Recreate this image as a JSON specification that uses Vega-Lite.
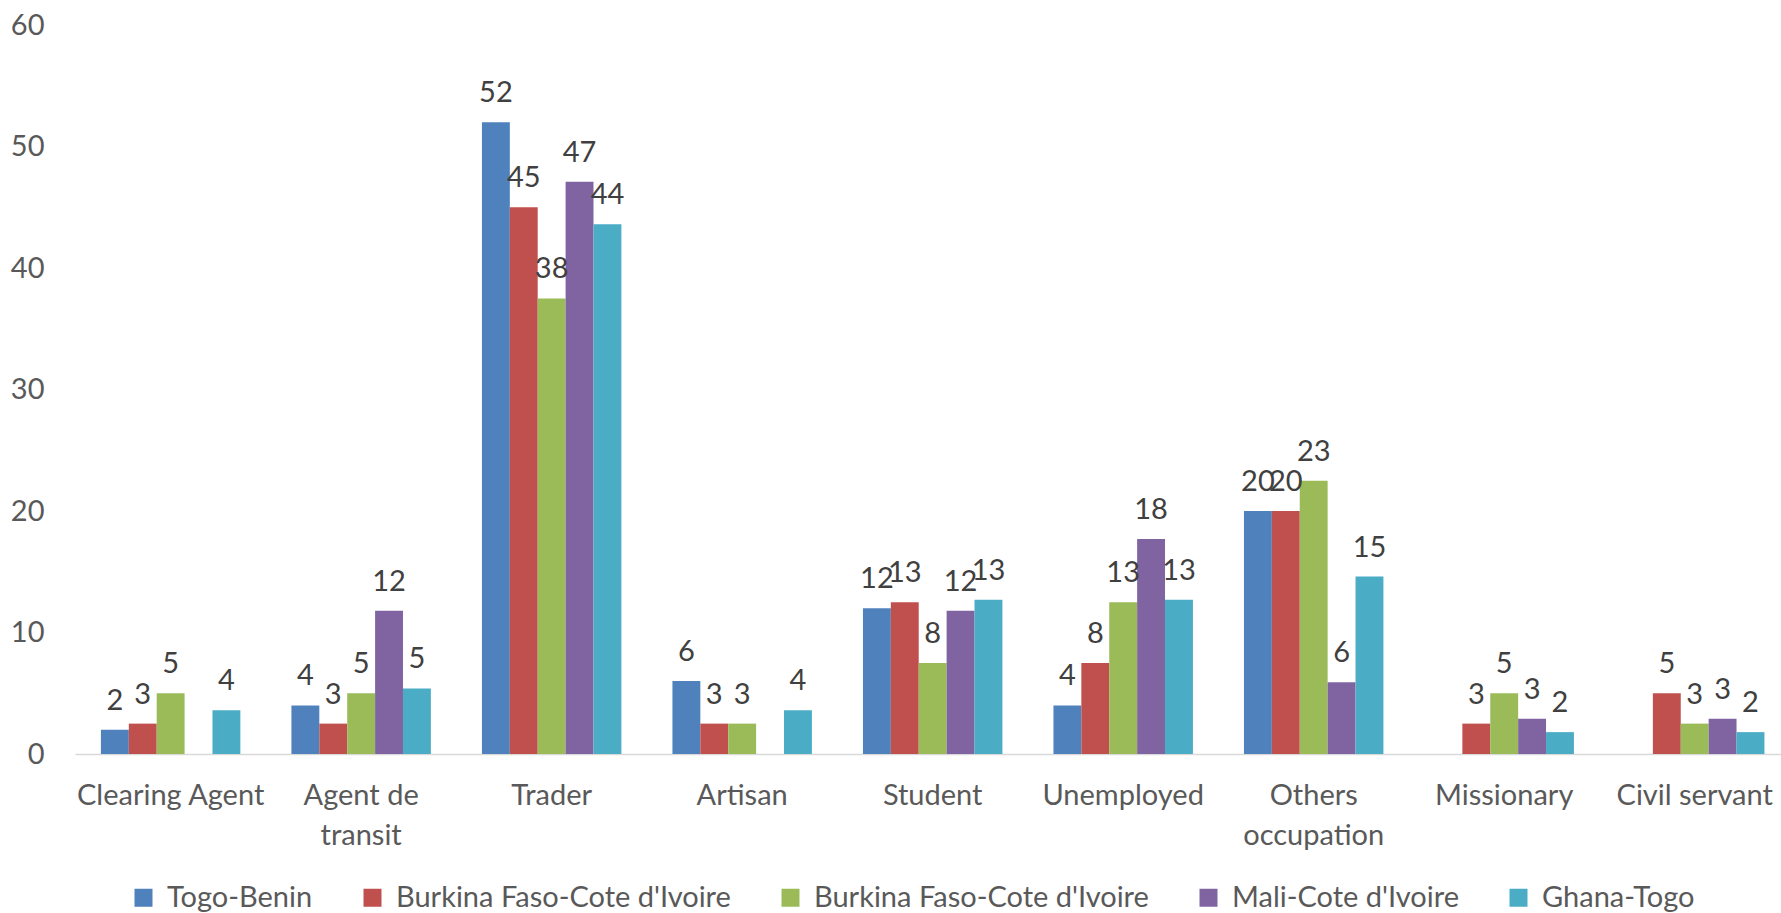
{
  "$schema": "https://vega.github.io/schema/vega-lite/v6.json",
  "width": 1706,
  "height": 729,
  "autosize": {"type": "none"},
  "padding": {"left": 75, "top": 25, "right": 0, "bottom": 159},
  "background": "white",
  "config": {"view": {"stroke": null}, "font": "Lato"},
  "data": {
    "values": [
      {"occupation": "Clearing Agent", "corridor": "Togo-Benin", "value": 2},
      {"occupation": "Clearing Agent", "corridor": "Burkina Faso-Cote d'Ivoire #1", "value": 2.5},
      {"occupation": "Clearing Agent", "corridor": "Burkina Faso-Cote d'Ivoire #2", "value": 5},
      {"occupation": "Clearing Agent", "corridor": "Ghana-Togo", "value": 3.6},
      {"occupation": "Agent de transit", "corridor": "Togo-Benin", "value": 4},
      {"occupation": "Agent de transit", "corridor": "Burkina Faso-Cote d'Ivoire #1", "value": 2.5},
      {"occupation": "Agent de transit", "corridor": "Burkina Faso-Cote d'Ivoire #2", "value": 5},
      {"occupation": "Agent de transit", "corridor": "Mali-Cote d'Ivoire", "value": 11.8},
      {"occupation": "Agent de transit", "corridor": "Ghana-Togo", "value": 5.4},
      {"occupation": "Trader", "corridor": "Togo-Benin", "value": 52},
      {"occupation": "Trader", "corridor": "Burkina Faso-Cote d'Ivoire #1", "value": 45},
      {"occupation": "Trader", "corridor": "Burkina Faso-Cote d'Ivoire #2", "value": 37.5},
      {"occupation": "Trader", "corridor": "Mali-Cote d'Ivoire", "value": 47.1},
      {"occupation": "Trader", "corridor": "Ghana-Togo", "value": 43.6},
      {"occupation": "Artisan", "corridor": "Togo-Benin", "value": 6},
      {"occupation": "Artisan", "corridor": "Burkina Faso-Cote d'Ivoire #1", "value": 2.5},
      {"occupation": "Artisan", "corridor": "Burkina Faso-Cote d'Ivoire #2", "value": 2.5},
      {"occupation": "Artisan", "corridor": "Ghana-Togo", "value": 3.6},
      {"occupation": "Student", "corridor": "Togo-Benin", "value": 12},
      {"occupation": "Student", "corridor": "Burkina Faso-Cote d'Ivoire #1", "value": 12.5},
      {"occupation": "Student", "corridor": "Burkina Faso-Cote d'Ivoire #2", "value": 7.5},
      {"occupation": "Student", "corridor": "Mali-Cote d'Ivoire", "value": 11.8},
      {"occupation": "Student", "corridor": "Ghana-Togo", "value": 12.7},
      {"occupation": "Unemployed", "corridor": "Togo-Benin", "value": 4},
      {"occupation": "Unemployed", "corridor": "Burkina Faso-Cote d'Ivoire #1", "value": 7.5},
      {"occupation": "Unemployed", "corridor": "Burkina Faso-Cote d'Ivoire #2", "value": 12.5},
      {"occupation": "Unemployed", "corridor": "Mali-Cote d'Ivoire", "value": 17.7},
      {"occupation": "Unemployed", "corridor": "Ghana-Togo", "value": 12.7},
      {"occupation": "Others occupation", "corridor": "Togo-Benin", "value": 20},
      {"occupation": "Others occupation", "corridor": "Burkina Faso-Cote d'Ivoire #1", "value": 20},
      {"occupation": "Others occupation", "corridor": "Burkina Faso-Cote d'Ivoire #2", "value": 22.5},
      {"occupation": "Others occupation", "corridor": "Mali-Cote d'Ivoire", "value": 5.9},
      {"occupation": "Others occupation", "corridor": "Ghana-Togo", "value": 14.6},
      {"occupation": "Missionary", "corridor": "Burkina Faso-Cote d'Ivoire #1", "value": 2.5},
      {"occupation": "Missionary", "corridor": "Burkina Faso-Cote d'Ivoire #2", "value": 5},
      {"occupation": "Missionary", "corridor": "Mali-Cote d'Ivoire", "value": 2.9},
      {"occupation": "Missionary", "corridor": "Ghana-Togo", "value": 1.8},
      {"occupation": "Civil servant", "corridor": "Burkina Faso-Cote d'Ivoire #1", "value": 5},
      {"occupation": "Civil servant", "corridor": "Burkina Faso-Cote d'Ivoire #2", "value": 2.5},
      {"occupation": "Civil servant", "corridor": "Mali-Cote d'Ivoire", "value": 2.9},
      {"occupation": "Civil servant", "corridor": "Ghana-Togo", "value": 1.8}
    ]
  },
  "encoding": {
    "x": {
      "field": "occupation",
      "type": "nominal",
      "sort": ["Clearing Agent", "Agent de transit", "Trader", "Artisan", "Student", "Unemployed", "Others occupation", "Missionary", "Civil servant"],
      "scale": {"paddingInner": 0.268, "paddingOuter": 0.1115, "align": 0.61},
      "axis": {
        "title": null,
        "labelAngle": 0,
        "ticks": false,
        "domain": true,
        "domainColor": "#d9d9d9",
        "domainWidth": 1.5,
        "labelFontSize": 29,
        "labelColor": "#595959",
        "labelPadding": 27,
        "labelLimit": 0,
        "labelLineHeight": 40,
        "labelExpr": "datum.value == 'Agent de transit' ? ['Agent de', 'transit'] : datum.value == 'Others occupation' ? ['Others', 'occupation'] : datum.label"
      }
    },
    "xOffset": {
      "field": "corridor",
      "type": "nominal",
      "sort": ["Togo-Benin", "Burkina Faso-Cote d'Ivoire #1", "Burkina Faso-Cote d'Ivoire #2", "Mali-Cote d'Ivoire", "Ghana-Togo"],
      "scale": {"paddingInner": 0, "paddingOuter": 0}
    },
    "y": {
      "field": "value",
      "type": "quantitative",
      "scale": {"domain": [0, 60]},
      "axis": {
        "title": null,
        "values": [0, 10, 20, 30, 40, 50, 60],
        "grid": false,
        "domain": false,
        "ticks": false,
        "labelFontSize": 29,
        "labelColor": "#595959",
        "labelPadding": 31
      }
    }
  },
  "layer": [
    {
      "mark": {"type": "bar"},
      "encoding": {
        "color": {
          "field": "corridor",
          "type": "nominal",
          "sort": ["Togo-Benin", "Burkina Faso-Cote d'Ivoire #1", "Burkina Faso-Cote d'Ivoire #2", "Mali-Cote d'Ivoire", "Ghana-Togo"],
          "scale": {
            "domain": ["Togo-Benin", "Burkina Faso-Cote d'Ivoire #1", "Burkina Faso-Cote d'Ivoire #2", "Mali-Cote d'Ivoire", "Ghana-Togo"],
            "range": ["#4F81BD", "#C0504D", "#9BBB59", "#8064A2", "#4BACC6"]
          },
          "legend": {
            "orient": "none",
            "legendX": 54,
            "legendY": 858,
            "direction": "horizontal",
            "title": null,
            "padding": 0,
            "symbolType": "square",
            "symbolSize": 324,
            "symbolStrokeWidth": 0,
            "symbolOpacity": 1,
            "labelFontSize": 29,
            "labelColor": "#595959",
            "labelLimit": 0,
            "labelOffset": 9,
            "columnPadding": 45,
            "labelExpr": "split(datum.label, ' #')[0]"
          }
        }
      }
    },
    {
      "mark": {"type": "text", "dy": -20, "baseline": "alphabetic", "fontSize": 29, "color": "#404040"},
      "encoding": {
        "text": {"field": "value", "type": "quantitative", "format": ".0f"}
      }
    }
  ]
}
